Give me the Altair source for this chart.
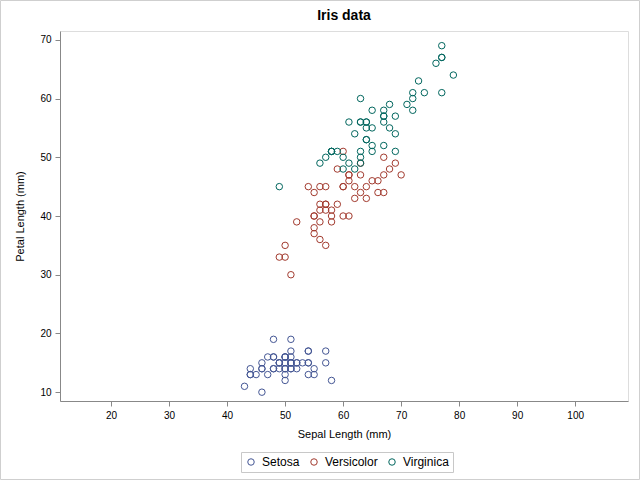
import altair as alt
import pandas as pd

# Iris data, mm
setosa_sl = [51,49,47,46,50,54,46,50,44,49,54,48,48,43,58,57,54,51,57,51,54,51,46,51,48,50,50,52,52,47,48,54,52,55,49,50,55,49,44,51,50,45,44,50,51,48,51,46,53,50]
setosa_pl = [14,14,13,15,14,17,14,15,14,15,15,16,14,11,12,15,13,14,17,15,17,15,10,17,19,16,16,15,14,16,16,15,15,14,15,12,13,15,13,15,13,13,13,16,19,14,16,14,15,14]
versi_sl = [70,64,69,55,65,57,63,49,66,52,50,59,60,61,56,67,56,58,62,56,59,61,63,61,64,66,68,67,60,57,55,55,58,60,54,60,67,63,56,55,55,61,58,50,56,57,57,62,51,57]
versi_pl = [47,45,49,40,46,45,47,33,46,39,35,42,40,47,36,44,45,41,45,39,48,40,49,47,43,44,48,50,45,35,38,37,39,51,45,45,47,44,41,40,44,46,40,33,42,42,42,43,30,41]
virg_sl = [63,58,71,63,65,76,49,73,67,72,65,64,68,57,58,64,65,77,77,60,69,56,77,63,67,72,62,61,64,72,74,79,64,63,61,77,63,64,60,69,67,69,58,68,67,67,63,65,62,59]
virg_pl = [60,51,59,56,58,66,45,63,58,61,51,53,55,50,51,53,55,67,69,50,57,49,67,49,57,60,48,49,56,58,61,64,56,51,56,61,56,55,48,54,56,51,51,59,57,52,50,52,54,51]

species = ["Setosa", "Versicolor", "Virginica"]
colors = ["#445694", "#A23A2E", "#01665E"]

rows = []
for name, sl, pl in [("Setosa", setosa_sl, setosa_pl),
                     ("Versicolor", versi_sl, versi_pl),
                     ("Virginica", virg_sl, virg_pl)]:
    for a, b in zip(sl, pl):
        rows.append({"Species": name, "SepalLength": a, "PetalLength": b})
df = pd.DataFrame(rows)

FONT = "Liberation Sans"

points = alt.Chart(df).mark_point(shape="circle", filled=False, size=42, strokeWidth=1, opacity=1).encode(
    x=alt.X("SepalLength:Q", title="Sepal Length (mm)",
            scale=alt.Scale(domain=[11.2, 109.1], nice=False, zero=False),
            axis=alt.Axis(values=[20, 30, 40, 50, 60, 70, 80, 90, 100], grid=False,
                          tickSize=5, labelPadding=4, titlePadding=8, titleFontWeight=400)),
    y=alt.Y("PetalLength:Q", title="Petal Length (mm)",
            scale=alt.Scale(domain=[8.5, 71.5], nice=False, zero=False),
            axis=alt.Axis(values=[10, 20, 30, 40, 50, 60, 70], grid=False,
                          tickSize=5, labelPadding=4, titlePadding=14, titleFontWeight=400)),
    color=alt.Color("Species:N", scale=alt.Scale(domain=species, range=colors),
                    legend=alt.Legend(title=None, orient="none", direction="horizontal",
                                      legendX=181, legendY=421,
                                      strokeColor="#c8c8c8", padding=4,
                                      symbolType="circle", symbolSize=42,
                                      symbolStrokeWidth=1, symbolFillColor="transparent",
                                      labelFont=FONT, labelFontSize=12, labelColor="#000",
                                      columnPadding=8, symbolOffset=0, labelOffset=5)),
)

border = alt.Chart(alt.Data(values=[{}])).mark_rect(fill="transparent", stroke="#cfcfcf", strokeWidth=1).encode(
    x=alt.value(-59.5), x2=alt.value(579.5), y=alt.value(-30.5), y2=alt.value(448.5)
)

chart = alt.layer(border, points).properties(
    width=568, height=370,
    title=alt.TitleParams("Iris data", font=FONT, fontSize=14, fontWeight="bold",
                          anchor="middle", offset=8, dy=31, color="#000"),
    padding={"left": 60, "top": 31, "right": 12, "bottom": 79},
    autosize=alt.AutoSizeParams(type="none"),
).configure_view(stroke="#8c8c8c", strokeWidth=1).configure_axis(
    labelFont=FONT, titleFont=FONT, labelFontSize=12, titleFontSize=13,
    labelColor="#000", titleColor="#000",
    domainColor="#8c8c8c", tickColor="#8c8c8c", domain=False
).configure(background="white")

chart.save("out.html", embed_options={"renderer": "svg", "actions": False})
